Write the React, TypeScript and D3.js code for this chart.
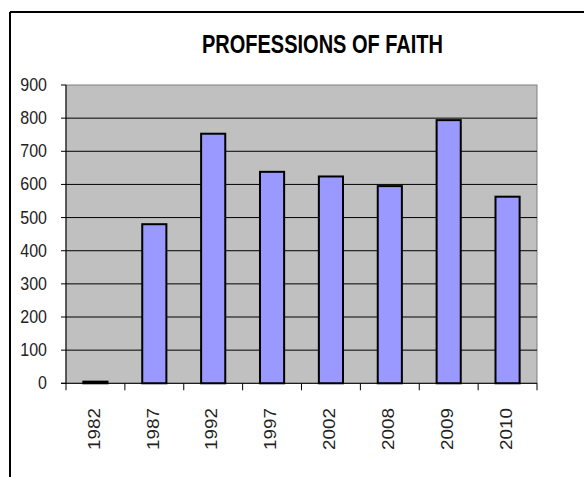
import React from 'react';
import * as d3 from 'd3';

const years = ['1982', '1987', '1992', '1997', '2002', '2008', '2009', '2010'];
const professions = [5, 480, 753, 638, 624, 595, 794, 563];
const yTicks = [0, 100, 200, 300, 400, 500, 600, 700, 800, 900];

const W = 584;
const H = 477;
const plot = { left: 66, right: 537, top: 85, bottom: 383.3 };
const stretch = 1.18; // the source image is a bit taller than wide

const App = () => {
  const x = d3.scaleBand().domain(years).range([plot.left, plot.right]).padding(0);
  const y = d3.scaleLinear().domain([0, 900]).range([plot.bottom, plot.top]);
  const barW = x.bandwidth() * 0.41;
  const font = 'Arial, "Liberation Sans", sans-serif';

  return (
    <svg
      width={W}
      height={H}
      style={{ position: 'absolute', left: 0, top: 0, background: '#fff' }}
      fontFamily={font}
    >
      <rect x={0} y={0} width={W} height={H} fill="#fff" />
      {/* outer chart frame, only top and left edges are visible */}
      <line x1={10} y1={12} x2={W} y2={12} stroke="#000" strokeWidth={2} />
      <line x1={10} y1={12} x2={10} y2={H} stroke="#000" strokeWidth={2} />

      <g transform={`translate(322.5,53) scale(1,1.25)`}>
        <text textAnchor="middle" fontSize={20} fontWeight="bold" fill="#000">
          PROFESSIONS OF FAITH
        </text>
      </g>

      <rect
        x={plot.left}
        y={plot.top}
        width={plot.right - plot.left}
        height={plot.bottom - plot.top}
        fill="#c0c0c0"
        stroke="#808080"
        strokeWidth={1}
      />

      {yTicks.map((t) => (
        <g key={t}>
          {t > 0 && t < 900 && (
            <line x1={plot.left} x2={plot.right} y1={y(t)} y2={y(t)} stroke="#000" strokeWidth={1} />
          )}
          <line x1={plot.left - 5} x2={plot.left} y1={y(t)} y2={y(t)} stroke="#000" strokeWidth={1} />
          <g transform={`translate(47,${y(t) + 1}) scale(1,${stretch})`}>
            <text textAnchor="end" dominantBaseline="middle" fontSize={16} fill="#222">
              {t}
            </text>
          </g>
        </g>
      ))}

      {years.map((yr, i) => {
        const cx = (x(yr) as number) + x.bandwidth() / 2;
        return (
          <rect
            key={yr}
            x={cx - barW / 2}
            y={y(professions[i])}
            width={barW}
            height={plot.bottom - y(professions[i])}
            fill="#9999ff"
            stroke="#000"
            strokeWidth={2}
          />
        );
      })}

      {/* axes */}
      <line x1={plot.left} x2={plot.left} y1={plot.top} y2={plot.bottom} stroke="#000" strokeWidth={1} />
      <line x1={plot.left - 5} x2={plot.right} y1={plot.bottom} y2={plot.bottom} stroke="#000" strokeWidth={1} />
      {[...years.map((yr) => x(yr) as number), plot.right].map((tx, i) => (
        <line key={i} x1={tx} x2={tx} y1={plot.bottom} y2={plot.bottom + 7} stroke="#000" strokeWidth={1} />
      ))}

      {years.map((yr) => {
        const cx = (x(yr) as number) + x.bandwidth() / 2;
        return (
          <g key={yr} transform={`translate(${cx},408) scale(1,${stretch}) rotate(-90)`}>
            <text textAnchor="end" dominantBaseline="middle" fontSize={16} fill="#222">
              {yr}
            </text>
          </g>
        );
      })}
    </svg>
  );
};

export default App;
